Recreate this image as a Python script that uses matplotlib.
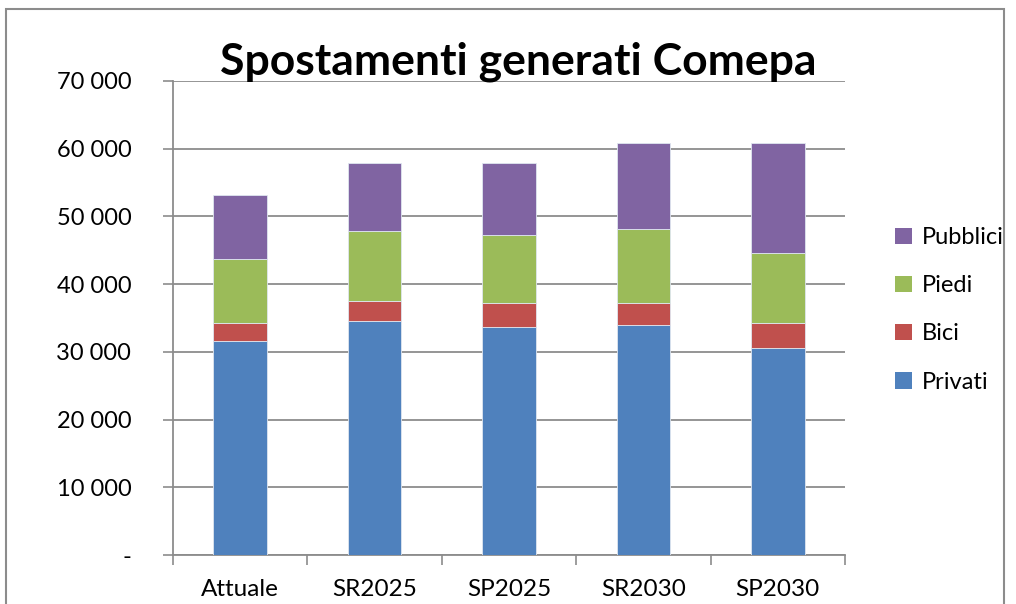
import matplotlib.pyplot as plt
import numpy as np
from matplotlib.patches import Patch, Rectangle
from matplotlib.ticker import FuncFormatter, FixedLocator

categories = ["Attuale", "SR2025", "SP2025", "SR2030", "SP2030"]
privati = [31600, 34510, 33680, 33980, 30500]
bici = [2610, 2970, 3500, 3300, 3710]
piedi = [9500, 10340, 10150, 10880, 10450]
pubblici = [9490, 10130, 10620, 12670, 16170]

series = [("Privati", privati, "#4F81BD"),
          ("Bici", bici, "#C0504D"),
          ("Piedi", piedi, "#9BBB59"),
          ("Pubblici", pubblici, "#8064A2")]

plt.rcParams["font.family"] = ["Lato", "DejaVu Sans"]

fig = plt.figure(figsize=(10.16, 6.04), dpi=100)
ax = fig.add_axes([0.1703, 0.0811, 0.6614, 0.7848])

x = np.arange(len(categories))
bottom = np.zeros(len(categories))
for name, vals, col in series:
    ax.bar(x, vals, width=0.4, bottom=bottom, color=col,
           edgecolor="#dfe6f0", linewidth=0.6, label=name, zorder=3)
    bottom += np.array(vals)

ax.set_xlim(-0.5, len(categories) - 0.5)
ax.set_ylim(0, 70000)
ax.set_yticks(np.arange(0, 70001, 10000))
ax.yaxis.set_major_formatter(FuncFormatter(
    lambda v, _: "-" if v == 0 else f"{int(v):,}".replace(",", " ")))
ax.grid(axis="y", color="#8c8c8c", linewidth=1.3, zorder=0)

# category labels centred, tick marks on category boundaries
ax.set_xticks(x)
ax.set_xticklabels(categories)
ax.xaxis.set_minor_locator(FixedLocator(np.arange(-0.5, len(categories), 1)))
ax.tick_params(axis="x", which="major", length=0, pad=17, labelsize=17.5)
ax.tick_params(axis="x", which="minor", length=7, color="#8c8c8c", width=1.2)
ax.tick_params(axis="y", length=7, color="#8c8c8c", width=1.2, pad=23, labelsize=17)

for side in ["top", "right"]:
    ax.spines[side].set_visible(False)
for side in ["left", "bottom"]:
    ax.spines[side].set_color("#8c8c8c")
    ax.spines[side].set_linewidth(1.3)

fig.text(0.51, 0.898, "Spostamenti generati Comepa", ha="center", va="center",
         fontsize=32, fontweight="bold")

handles = [Patch(facecolor=col, label=name) for name, _, col in series][::-1]
fig.legend(handles=handles, loc="center left", bbox_to_anchor=(0.86, 0.487),
           frameon=False, fontsize=17, handlelength=0.7, handleheight=0.7,
           handletextpad=0.45, labelspacing=1.15)

# chart frame
fig.patches.append(Rectangle((0.006, -0.05), 0.982, 1.035, transform=fig.transFigure,
                             fill=False, edgecolor="#8c8c8c", linewidth=1.5))

fig.savefig("out.png", dpi=100)
